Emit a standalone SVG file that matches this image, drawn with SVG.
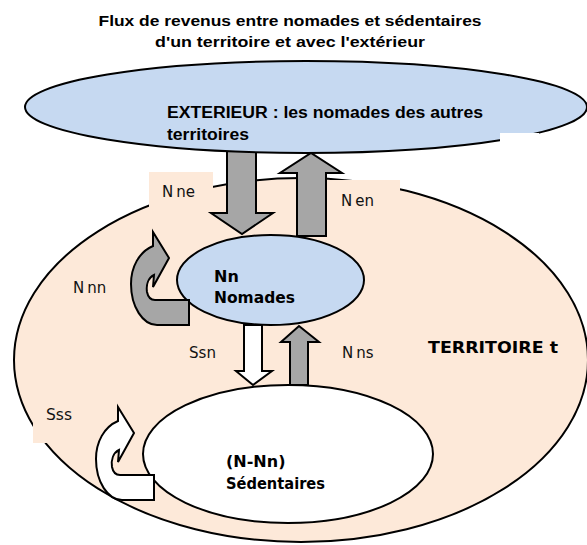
<svg xmlns="http://www.w3.org/2000/svg" width="587" height="545" viewBox="0 0 587 545">
<style>
.ttl{font-family:"Liberation Sans",Arial,sans-serif;font-weight:bold;font-size:15px;fill:#000}
.ext{font-family:"Liberation Sans",Arial,sans-serif;font-weight:bold;font-size:16px;fill:#000}
.nb{font-family:"DejaVu Sans",Verdana,sans-serif;font-weight:bold;font-size:16px;fill:#000}
.lb{font-family:"DejaVu Sans",Verdana,sans-serif;font-size:15px;fill:#111}
.ln{stroke:#000;stroke-width:2;stroke-linejoin:miter}
.peach{fill:#FDE9D9}
.blue{fill:#C6D9F1}
.gray{fill:#A6A6A6}
.wh{fill:#FFFFFF}
</style>
<defs>
<path id="curl" d="M58,68 L58,93 L26,93 C12,93 0,75 0,52 C0,35 8,20 22,14 L22,0 L38,26 L22,55 L23,43 C17,46 15,53 16,60 C17,65 19,68 24,68 Z"/>
</defs>
<rect width="587" height="545" fill="#FFFFFF"/>
<g id="title">
<text class="ttl" x="290" y="26" text-anchor="middle" textLength="383" lengthAdjust="spacingAndGlyphs">Flux de revenus entre nomades et sédentaires</text>
<text class="ttl" x="290" y="47" text-anchor="middle" textLength="270" lengthAdjust="spacingAndGlyphs">d'un territoire et avec l'extérieur</text>
</g>
<g id="territoire">
<ellipse class="peach ln" cx="301" cy="360" rx="287" ry="182"/>
<text class="nb" x="428" y="353" font-size="17" textLength="130" lengthAdjust="spacingAndGlyphs">TERRITOIRE t</text>
</g>
<g id="label-boxes">
<rect class="peach" x="149" y="172" width="64" height="43"/>
<rect class="peach" x="327" y="180" width="73" height="38"/>
<rect class="peach" x="33" y="398" width="60" height="45"/>
</g>
<g id="connectors">
<path id="arrow-nne" class="gray ln" d="M227,140 L256,140 L256,213 L273,213 L242,234 L211,213 L227,213 Z"/>
<path id="arrow-nen" class="gray ln" d="M297,236 L326,236 L326,173 L342,173 L311,153 L280,173 L297,173 Z"/>
<path id="arrow-ssn" class="wh ln" d="M244,325 L262,325 L262,371 L272,371 L253,385 L236,371 L244,371 Z"/>
<path id="arrow-nns" class="gray ln" d="M290,385 L308,385 L308,342 L319,342 L299,326 L281,342 L290,342 Z"/>
</g>
<g id="exterieur">
<ellipse class="blue ln" cx="306" cy="107" rx="281" ry="46"/>
<rect class="wh" x="500" y="133" width="39" height="10"/>
<text class="ext" x="167" y="118" textLength="316" lengthAdjust="spacingAndGlyphs">EXTERIEUR : les nomades des autres</text>
<text class="ext" x="167" y="140" textLength="82" lengthAdjust="spacingAndGlyphs">territoires</text>
</g>
<g id="nomades">
<ellipse class="blue ln" cx="270.5" cy="280" rx="93.5" ry="45"/>
<text class="nb" x="214" y="282">Nn</text>
<text class="nb" x="214" y="303" textLength="81" lengthAdjust="spacingAndGlyphs">Nomades</text>
</g>
<g id="sedentaires">
<ellipse class="wh ln" cx="288" cy="454" rx="145" ry="69"/>
<text class="nb" x="226" y="467">(N-Nn)</text>
<text class="nb" x="226" y="489" textLength="99" lengthAdjust="spacingAndGlyphs">Sédentaires</text>
</g>
<g id="loop-nnn">
<use href="#curl" class="gray ln" transform="translate(131,232)"/>
</g>
<g id="loop-sss">
<use href="#curl" class="wh ln" transform="translate(96,407)"/>
</g>
<g id="labels">
<text class="lb" x="162" y="197">N<tspan dx="3">ne</tspan></text>
<text class="lb" x="341" y="206">N<tspan dx="3">en</tspan></text>
<text class="lb" x="73" y="293">N<tspan dx="3">nn</tspan></text>
<text class="lb" x="189" y="358" textLength="27" lengthAdjust="spacingAndGlyphs">Ssn</text>
<text class="lb" x="342" y="358">N<tspan dx="3">ns</tspan></text>
<text class="lb" x="46" y="420" textLength="26" lengthAdjust="spacingAndGlyphs">Sss</text>
</g>
</svg>
